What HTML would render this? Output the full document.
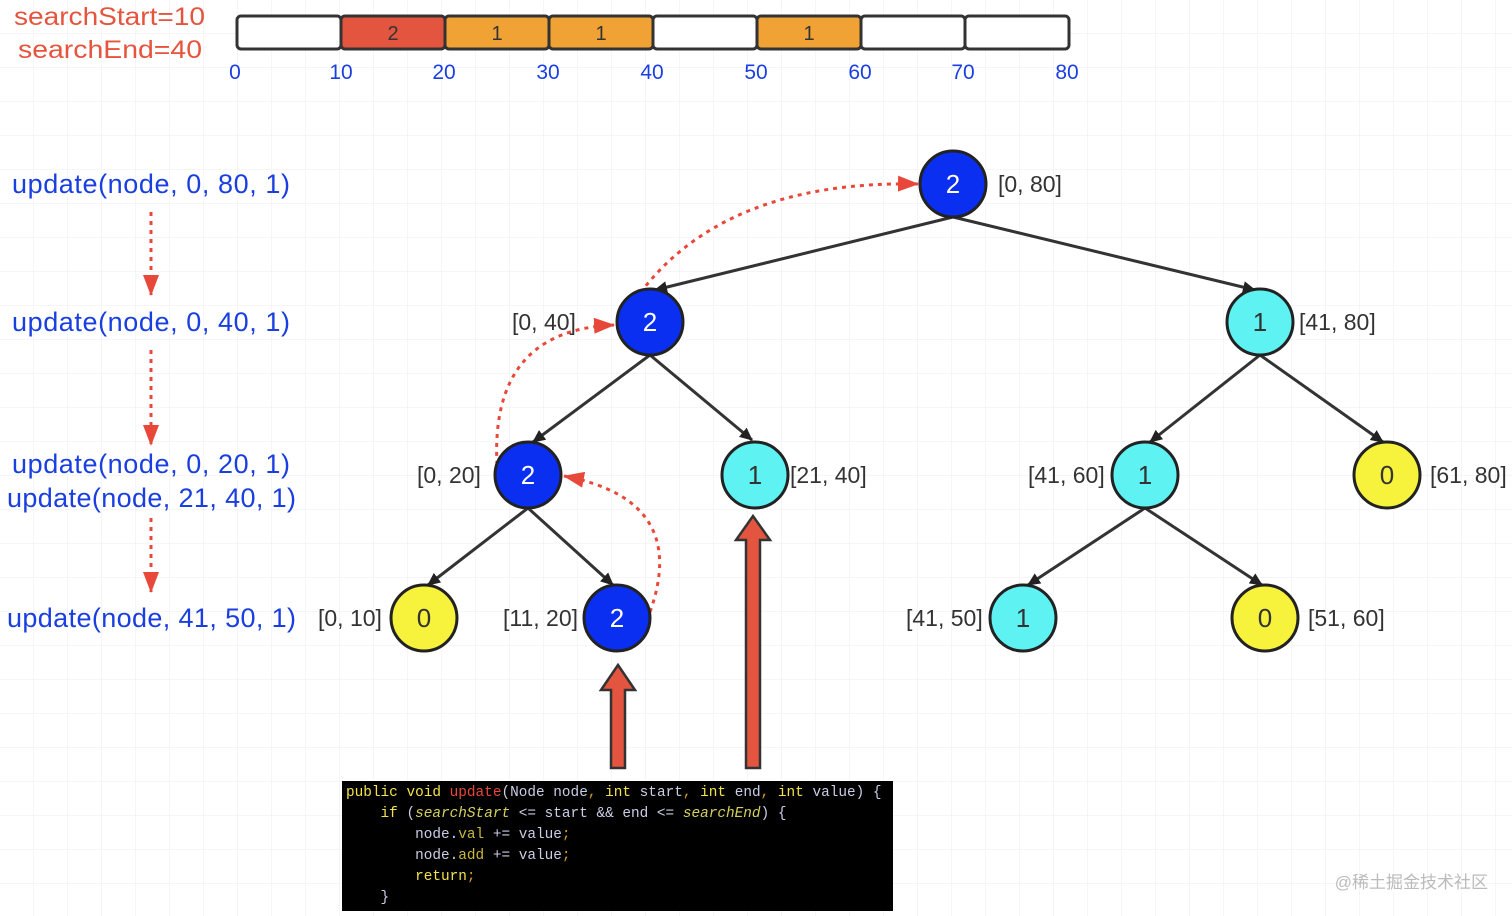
<!DOCTYPE html>
<html><head><meta charset="utf-8"><style>
html,body{margin:0;padding:0;background:#fff}
svg text{font-family:"Liberation Sans",sans-serif}
.code{position:absolute;left:342px;top:781px;width:551px;height:130px;background:#000;font-family:"Liberation Mono",monospace;font-size:14.4px;line-height:21px;color:#c9cde6;padding:2px 0 0 4px;box-sizing:border-box;white-space:pre;overflow:hidden}
.k{color:#f3e24a}.f{color:#e8483a}.i{color:#d6cf60;font-style:italic}.p{color:#d59a2a}.m{color:#c9b840}
</style></head><body>
<svg width="1512" height="916" style="position:absolute;left:0;top:0">
<defs>
<pattern id="g" width="34" height="34" patternUnits="userSpaceOnUse"><path d="M34 0V34H0" fill="none" stroke="#ececec" stroke-width="1"/></pattern>
<marker id="a" markerWidth="14" markerHeight="14" refX="12" refY="6" orient="auto" markerUnits="userSpaceOnUse"><path d="M0,0L13,6L0,12Z" fill="#222"/></marker>
<marker id="r" markerWidth="22" markerHeight="22" refX="20" refY="8" orient="auto" markerUnits="userSpaceOnUse"><path d="M0,0L21,8L0,16Z" fill="#e8483a"/></marker>
</defs>
<rect width="1512" height="916" fill="url(#g)"/>
<text x="14" y="25" font-size="25" fill="#e5543d" textLength="191" lengthAdjust="spacingAndGlyphs">searchStart=10</text>
<text x="18" y="58" font-size="25" fill="#e5543d" textLength="184" lengthAdjust="spacingAndGlyphs">searchEnd=40</text>
<g stroke="#333" stroke-width="3">
<rect x="237" y="16" width="104" height="33" rx="4" fill="#fff"/>
<rect x="341" y="16" width="104" height="33" rx="4" fill="#e4553f"/>
<rect x="445" y="16" width="104" height="33" rx="4" fill="#f1a234"/>
<rect x="549" y="16" width="104" height="33" rx="4" fill="#f1a234"/>
<rect x="653" y="16" width="104" height="33" rx="4" fill="#fff"/>
<rect x="757" y="16" width="104" height="33" rx="4" fill="#f1a234"/>
<rect x="861" y="16" width="104" height="33" rx="4" fill="#fff"/>
<rect x="965" y="16" width="104" height="33" rx="4" fill="#fff"/>
</g>
<g font-size="20" fill="#333" text-anchor="middle"><text x="393" y="40">2</text><text x="497" y="40">1</text><text x="601" y="40">1</text><text x="809" y="40">1</text></g>
<g font-size="21" fill="#1a3fe0" text-anchor="middle"><text x="235" y="79">0</text><text x="341" y="79">10</text><text x="444" y="79">20</text><text x="548" y="79">30</text><text x="652" y="79">40</text><text x="756" y="79">50</text><text x="860" y="79">60</text><text x="963" y="79">70</text><text x="1067" y="79">80</text></g>
<g font-size="27" fill="#1a3fe0" lengthAdjust="spacingAndGlyphs"><text x="12" y="193" textLength="278">update(node, 0, 80, 1)</text><text x="12" y="331" textLength="278">update(node, 0, 40, 1)</text><text x="12" y="473" textLength="278">update(node, 0, 20, 1)</text><text x="7" y="507" textLength="289">update(node, 21, 40, 1)</text><text x="7" y="627" textLength="289">update(node, 41, 50, 1)</text></g>
<g stroke="#e8483a" stroke-width="3" stroke-dasharray="4,5" fill="none">
<path d="M151 212V295" marker-end="url(#r)"/><path d="M151 350V445" marker-end="url(#r)"/><path d="M151 518V592" marker-end="url(#r)"/>
<path d="M635 300Q720 180 918 184" marker-end="url(#r)"/>
<path d="M497 465Q490 330 614 325" marker-end="url(#r)"/>
<path d="M650 612Q690 500 564 476" marker-end="url(#r)"/>
</g>
<g stroke="#333" stroke-width="3" marker-end="url(#a)">
<line x1="953" y1="217" x2="655" y2="290"/><line x1="953" y1="217" x2="1255" y2="290"/>
<line x1="650" y1="355" x2="533" y2="442"/><line x1="650" y1="355" x2="752" y2="440"/>
<line x1="1260" y1="355" x2="1150" y2="442"/><line x1="1260" y1="355" x2="1383" y2="442"/>
<line x1="528" y1="508" x2="428" y2="585"/><line x1="528" y1="508" x2="613" y2="585"/>
<line x1="1145" y1="508" x2="1028" y2="585"/><line x1="1145" y1="508" x2="1262" y2="585"/>
</g>
<g stroke="#222" stroke-width="3">
<circle cx="953" cy="184" r="33" fill="#0a2ff0"/><circle cx="650" cy="322" r="33" fill="#0a2ff0"/><circle cx="1260" cy="322" r="33" fill="#5ef2f2"/>
<circle cx="528" cy="475" r="33" fill="#0a2ff0"/><circle cx="755" cy="475" r="33" fill="#5ef2f2"/><circle cx="1145" cy="475" r="33" fill="#5ef2f2"/><circle cx="1387" cy="475" r="33" fill="#f7f23c"/>
<circle cx="424" cy="618" r="33" fill="#f7f23c"/><circle cx="617" cy="618" r="33" fill="#0a2ff0"/><circle cx="1023" cy="618" r="33" fill="#5ef2f2"/><circle cx="1265" cy="618" r="33" fill="#f7f23c"/>
</g>
<g font-size="26" text-anchor="middle">
<text x="953" y="193" fill="#fff">2</text><text x="650" y="331" fill="#fff">2</text><text x="1260" y="331" fill="#333">1</text>
<text x="528" y="484" fill="#fff">2</text><text x="755" y="484" fill="#333">1</text><text x="1145" y="484" fill="#333">1</text><text x="1387" y="484" fill="#333">0</text>
<text x="424" y="627" fill="#333">0</text><text x="617" y="627" fill="#fff">2</text><text x="1023" y="627" fill="#333">1</text><text x="1265" y="627" fill="#333">0</text>
</g>
<g font-size="23" fill="#333">
<text x="998" y="192">[0, 80]</text><text x="512" y="330">[0, 40]</text><text x="1299" y="330">[41, 80]</text>
<text x="417" y="483">[0, 20]</text><text x="790" y="483">[21, 40]</text><text x="1028" y="483">[41, 60]</text><text x="1430" y="483">[61, 80]</text>
<text x="318" y="626">[0, 10]</text><text x="503" y="626">[11, 20]</text><text x="906" y="626">[41, 50]</text><text x="1308" y="626">[51, 60]</text>
</g>
<g fill="#e4553f" stroke="#333" stroke-width="2.5">
<path d="M611 768V690H601L618 665L635 690H625V768Z"/>
<path d="M746 768V540H736L753 516L770 540H760V768Z"/>
</g>
<text x="1488" y="888" font-size="17" fill="#bbb" text-anchor="end" style="font-family:'Liberation Sans','Noto Sans CJK SC',sans-serif">@稀土掘金技术社区</text>
</svg>
<div class="code"><span class="k">public void </span><span class="f">update</span>(Node node<span class="p">, </span><span class="k">int</span> start<span class="p">, </span><span class="k">int</span> end<span class="p">, </span><span class="k">int</span> value) {
    <span class="k">if</span> (<span class="i">searchStart</span> &lt;= start &amp;&amp; end &lt;= <span class="i">searchEnd</span>) {
        node.<span class="m">val</span> += value<span class="p">;</span>
        node.<span class="m">add</span> += value<span class="p">;</span>
        <span class="k">return</span><span class="p">;</span>
    }</div>
</body></html>
